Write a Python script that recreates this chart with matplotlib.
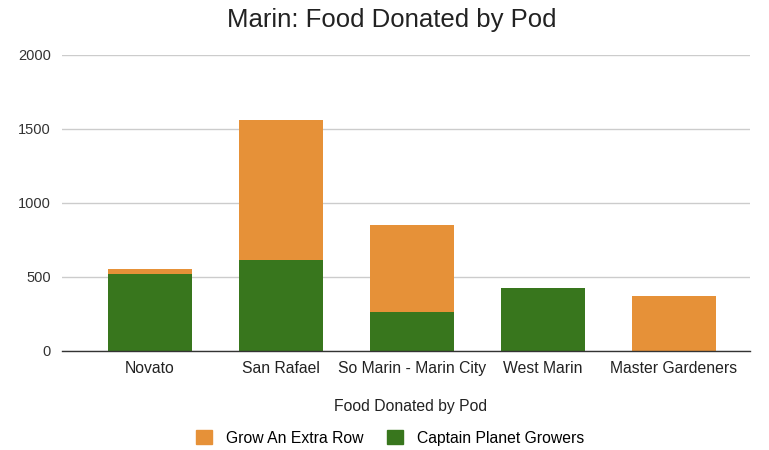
import matplotlib
matplotlib.use("Agg")
import matplotlib.pyplot as plt
from matplotlib.patches import Patch

categories = ["Novato", "San Rafael", "So Marin - Marin City", "West Marin", "Master Gardeners"]
captain_planet = [520, 615, 265, 424, 0]
grow_extra_row = [35, 943, 586, 0, 372]
yticks = [0, 500, 1000, 1500, 2000]

orange = "#e69138"
green = "#38761d"

plt.rcParams['font.family'] = ['Liberation Sans', 'DejaVu Sans']

fig = plt.figure(figsize=(7.69, 4.5), dpi=100)
ax = fig.add_axes([62/769, 1 - 351/450, (750-62)/769, (351-55)/450])

x = list(range(len(categories)))
ax.bar(x, captain_planet, width=0.64, color=green, zorder=3)
ax.bar(x, grow_extra_row, width=0.64, bottom=captain_planet, color=orange, zorder=3)

ax.set_xlim(-0.672, 4.58)
ax.set_ylim(0, 2000)
ax.set_yticks(yticks)
ax.set_yticklabels([str(v) for v in yticks], fontsize=10.5, color="#333333")
ax.set_xticks(x)
ax.set_xticklabels(categories, fontsize=11.3, color="#222222")
ax.tick_params(axis='both', length=0, pad=7)
ax.tick_params(axis='y', pad=8)
ax.yaxis.grid(True, color="#cccccc", linewidth=1, zorder=0)
for s in ["top", "right", "left"]:
    ax.spines[s].set_visible(False)
ax.spines["bottom"].set_color("#333333")
ax.spines["bottom"].set_linewidth(1)
ax.spines["bottom"].set_zorder(4)

fig.text(392/769, 1 - 20/450, "Marin: Food Donated by Pod", ha="center", va="center", fontsize=18.5, color="#222222")
fig.text(411/769, 1 - 407/450, "Food Donated by Pod", ha="center", va="center", fontsize=11.3, color="#222222")

handles = [Patch(color=orange, label="Grow An Extra Row"), Patch(color=green, label="Captain Planet Growers")]
fig.legend(handles=handles, loc="center", bbox_to_anchor=(390/769, 1 - 438/450), ncol=2, frameon=False,
           fontsize=11.3, handlelength=1.0, handleheight=1.0, columnspacing=1.5, handletextpad=0.9)

fig.savefig("out.png", dpi=100)
